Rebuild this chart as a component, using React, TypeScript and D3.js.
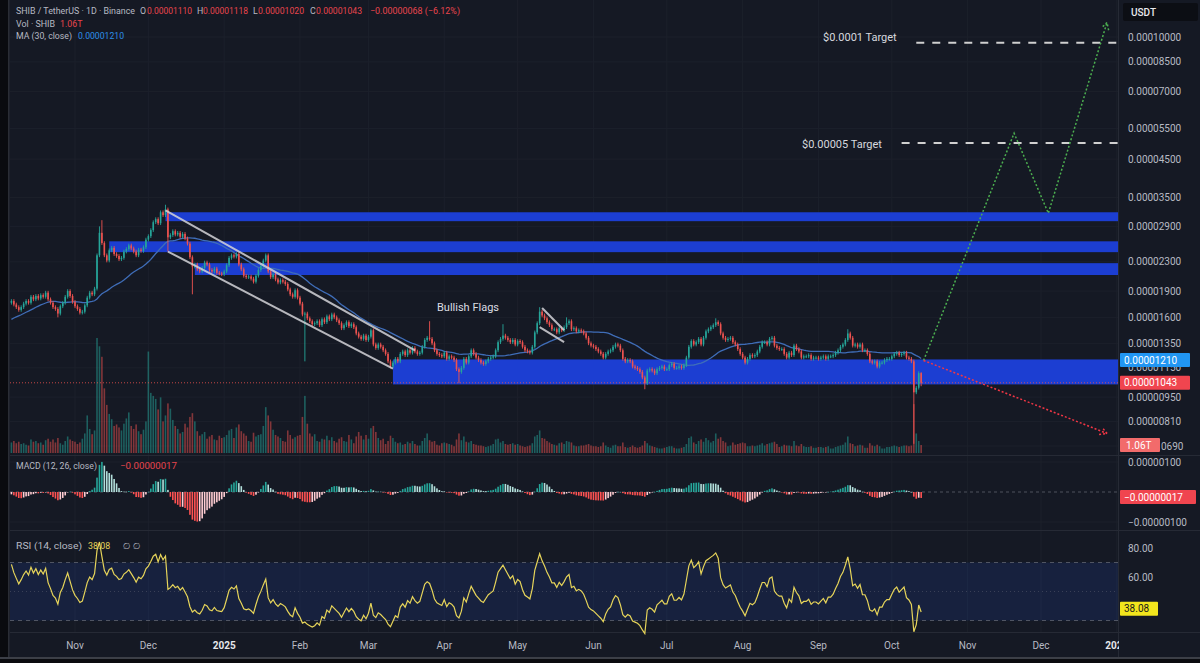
import React, { useMemo } from "react";
import * as d3 from "d3";

// ---------------- DATA ----------------
// prices in units of 1e-6 USDT, volumes in trillions of SHIB
const priorCloses = [13.0, 13.2, 13.4, 13.6, 13.8, 13.5, 13.7, 14.0, 14.2, 14.0, 13.8, 14.1, 14.6, 15.0, 15.4,
  15.3, 15.6, 16.2, 17.2, 17.8, 18.6, 18.9, 18.2, 17.8, 17.6, 16.9, 17.0, 17.4, 17.6, 17.6]; // Sep 6 – Oct 5 2024 (MA warm-up)

const segmentStarts = ["2024-10-06", "2024-11-01", "2024-12-01", "2025-01-01", "2025-02-01", "2025-03-01", "2025-04-01",
  "2025-05-01", "2025-06-01", "2025-07-01", "2025-08-01", "2025-09-01", "2025-10-01"];

const closesOct24 = [17.8, 17.4, 17.1, 16.8, 17.1, 17.5, 17.8, 17.6, 18.3, 18.0, 18.4, 18.1, 18.5, 18.3, 18.8, 18.0, 17.6, 17.1, 16.9, 16.4, 17.2, 17.6, 18.3, 19.0, 18.4, 17.7];
const closesNov24 = [17.2, 16.9, 16.5, 16.6, 17.3, 18.2, 18.8, 18.6, 19.3, 24.0, 27.8, 26.0, 24.0, 23.2, 24.8, 25.2, 24.2, 23.9, 23.4, 23.6, 24.6, 25.0, 25.6, 25.1, 24.6, 24.0, 24.9, 24.7, 25.3, 26.6];
const closesDec24 = [27.2, 28.3, 29.8, 30.4, 29.6, 31.8, 31.2, 32.4, 27.0, 27.4, 28.1, 27.5, 27.8, 27.1, 27.6, 26.8, 25.9, 23.7, 22.3, 22.6, 21.9, 21.6, 22.1, 22.9, 22.6, 21.8, 21.6, 22.0, 21.4, 21.3, 21.2];
const closesJan25 = [21.6, 22.5, 23.6, 24.0, 23.8, 24.2, 22.6, 21.9, 21.0, 20.8, 20.9, 20.6, 20.2, 21.0, 21.8, 22.4, 23.2, 24.0, 21.6, 20.8, 21.2, 20.5, 20.1, 20.4, 20.2, 19.9, 19.2, 18.6, 18.3, 19.1, 18.2];
const closesFeb25 = [17.5, 16.3, 16.4, 15.9, 15.6, 15.3, 15.4, 15.6, 15.2, 15.8, 15.5, 16.1, 15.8, 16.3, 16.0, 15.7, 15.4, 14.9, 15.2, 15.5, 15.1, 15.3, 15.0, 14.4, 14.1, 13.9, 14.2, 13.8];
const closesMar25 = [14.1, 14.7, 13.4, 13.1, 13.4, 13.2, 12.9, 12.6, 12.0, 11.6, 11.9, 12.2, 12.0, 12.6, 12.8, 12.5, 12.9, 12.7, 13.1, 12.8, 12.6, 12.7, 13.2, 13.8, 14.0, 13.9, 13.5, 12.9, 12.6, 12.5, 12.4];
const closesApr25 = [12.7, 12.2, 12.4, 12.3, 12.1, 11.4, 11.2, 11.5, 12.2, 11.9, 12.4, 12.9, 12.6, 12.3, 12.1, 11.9, 11.8, 12.0, 12.2, 12.3, 12.4, 12.9, 13.6, 13.9, 14.2, 14.0, 13.8, 13.6, 13.8, 13.4];
const closesMay25 = [13.7, 13.6, 13.2, 12.9, 12.8, 12.7, 13.2, 14.5, 15.4, 16.6, 16.2, 15.9, 15.5, 15.2, 14.8, 14.8, 14.5, 14.9, 14.7, 15.0, 15.4, 15.6, 14.8, 14.9, 14.6, 14.7, 14.6, 14.4, 14.0, 13.5, 13.3];
const closesJun25 = [13.2, 13.0, 12.8, 12.6, 12.3, 12.6, 12.8, 12.9, 13.2, 13.4, 13.3, 12.9, 12.2, 12.0, 12.1, 12.0, 11.6, 11.5, 11.4, 11.2, 10.8, 10.4, 11.3, 11.4, 11.3, 11.1, 11.4, 11.5, 11.6, 11.4];
const closesJul25 = [11.4, 11.7, 11.8, 11.5, 11.5, 11.6, 11.5, 11.7, 12.3, 13.2, 13.7, 13.4, 13.6, 13.9, 13.4, 14.0, 14.6, 14.8, 15.0, 15.2, 15.5, 15.3, 14.4, 14.0, 13.8, 13.9, 14.0, 13.6, 13.4, 13.0, 12.6];
const closesAug25 = [12.3, 11.9, 12.2, 12.5, 12.4, 12.5, 12.8, 13.2, 13.6, 13.6, 13.4, 13.9, 14.0, 13.3, 13.1, 13.0, 13.0, 12.6, 12.3, 12.7, 12.5, 13.3, 13.0, 12.8, 12.3, 12.4, 12.4, 12.5, 12.2, 12.3, 12.3];
const closesSep25 = [12.2, 12.3, 12.4, 12.2, 12.4, 12.4, 12.5, 12.7, 12.9, 13.2, 13.4, 13.8, 14.4, 14.0, 13.3, 13.4, 13.2, 13.4, 12.9, 12.9, 12.6, 12.0, 11.9, 12.0, 11.6, 11.9, 11.9, 12.1, 12.2, 12.2];
const closesOct25 = [12.4, 12.6, 12.7, 12.5, 12.6, 12.7, 12.3, 12.2, 12.0, 9.8, 10.1, 11.11, 10.43];

const volOct24 = [1.4, 1.6, 1.3, 1.5, 1.2, 1.3, 1.1, 1.0, 1.8, 1.5, 1.6, 1.3, 1.4, 1.1, 1.7, 1.9, 1.5, 1.8, 1.4, 2.0, 1.3, 1.1, 1.6, 2.2, 1.8, 1.6];
const volNov24 = [1.5, 1.2, 1.4, 1.9, 2.6, 5.0, 3.2, 2.5, 3.0, 15.3, 14.2, 12.8, 8.6, 6.4, 5.2, 4.5, 3.6, 3.8, 3.4, 3.0, 3.9, 4.6, 5.4, 3.6, 3.2, 3.8, 2.9, 2.5, 3.1, 4.2];
const volDec24 = [13.5, 8.0, 7.6, 7.2, 5.8, 7.4, 4.2, 5.0, 6.6, 5.9, 4.4, 3.6, 3.2, 2.6, 2.8, 3.9, 3.4, 4.8, 5.3, 4.2, 2.9, 2.3, 2.5, 2.8, 1.9, 2.2, 2.4, 1.8, 1.7, 2.3, 2.0];
const volJan25 = [2.1, 2.4, 3.0, 3.2, 2.0, 3.4, 3.8, 2.9, 2.6, 2.3, 1.6, 1.5, 2.7, 2.2, 2.4, 2.5, 3.6, 6.1, 5.0, 4.2, 3.1, 2.4, 2.2, 2.0, 1.6, 1.5, 3.0, 2.4, 1.9, 2.1, 2.3];
const volFeb25 = [2.4, 4.8, 7.6, 3.9, 2.6, 2.2, 2.5, 1.6, 1.5, 1.9, 1.8, 2.3, 1.7, 2.1, 1.6, 1.4, 1.9, 2.1, 1.6, 1.5, 2.4, 1.8, 1.3, 2.2, 2.8, 2.3, 1.8, 2.4];
const volMar25 = [1.9, 3.3, 3.6, 2.8, 2.0, 1.7, 1.9, 1.2, 1.6, 2.3, 2.0, 1.5, 1.3, 1.4, 1.1, 1.2, 1.5, 1.3, 1.6, 1.2, 1.0, 1.0, 1.6, 2.0, 2.6, 1.7, 1.5, 1.6, 1.1, 1.0, 1.3];
const volApr25 = [1.4, 1.3, 1.2, 1.1, 0.9, 1.8, 2.6, 1.7, 2.2, 1.5, 1.4, 1.6, 1.2, 1.1, 1.0, 1.0, 0.9, 0.8, 0.9, 1.0, 1.2, 1.8, 1.9, 1.4, 1.6, 1.2, 1.1, 1.2, 1.3, 1.1];
const volMay25 = [1.2, 1.0, 0.9, 0.8, 0.9, 1.0, 1.3, 2.2, 2.4, 3.0, 2.0, 1.9, 1.6, 1.4, 1.2, 1.1, 1.0, 1.3, 1.4, 1.2, 1.6, 1.5, 1.4, 1.0, 0.9, 0.9, 1.0, 1.0, 1.1, 1.2, 1.0];
const volJun25 = [0.9, 0.9, 0.8, 0.9, 1.4, 1.0, 0.8, 0.7, 1.0, 1.1, 0.9, 0.9, 1.4, 0.8, 0.7, 0.8, 1.0, 0.8, 0.7, 0.8, 1.0, 1.6, 1.3, 1.0, 0.9, 0.8, 0.7, 0.6, 0.6, 0.7];
const volJul25 = [0.8, 0.9, 0.9, 0.7, 0.6, 0.6, 0.7, 0.8, 1.2, 2.0, 2.2, 1.4, 1.2, 1.6, 1.8, 1.5, 2.0, 1.7, 1.4, 1.6, 2.6, 1.9, 2.1, 1.6, 1.4, 0.9, 1.0, 1.4, 1.1, 1.2, 1.3];
const volAug25 = [1.4, 1.3, 0.9, 0.9, 1.0, 0.9, 1.0, 1.1, 1.3, 1.0, 1.2, 1.3, 1.4, 1.5, 1.2, 0.8, 0.9, 1.1, 1.0, 1.0, 0.9, 1.6, 1.0, 0.9, 1.2, 0.9, 0.8, 0.8, 0.9, 0.7, 0.7];
const volSep25 = [0.8, 0.8, 0.7, 0.8, 0.9, 0.6, 0.6, 0.8, 0.9, 1.0, 1.1, 1.4, 2.2, 1.3, 1.2, 0.9, 1.0, 1.1, 1.0, 0.7, 0.7, 1.3, 1.0, 0.9, 1.1, 0.9, 0.6, 0.6, 0.8, 0.8];
const volOct25 = [0.9, 1.0, 0.9, 0.8, 0.9, 1.0, 1.0, 0.9, 1.0, 6.5, 2.6, 1.6, 1.06];

const closeSegments = [closesOct24, closesNov24, closesDec24, closesJan25, closesFeb25, closesMar25, closesApr25,
  closesMay25, closesJun25, closesJul25, closesAug25, closesSep25, closesOct25];
const volumeSegments = [volOct24, volNov24, volDec24, volJan25, volFeb25, volMar25, volApr25,
  volMay25, volJun25, volJul25, volAug25, volSep25, volOct25];

// notable wicks
const highMarks: [string, number][] = [["2024-11-11", 29.0], ["2024-11-12", 30.2], ["2024-12-08", 33.4], ["2025-03-26", 15.6],
  ["2025-04-25", 15.3], ["2025-05-10", 17.1], ["2025-05-21", 16.0], ["2025-07-21", 15.9], ["2025-09-13", 14.8], ["2025-10-13", 11.18]];
const lowMarks: [string, number][] = [["2024-10-25", 16.0], ["2024-12-09", 24.6], ["2024-12-19", 18.6], ["2025-02-03", 12.0],
  ["2025-04-07", 10.4], ["2025-06-22", 10.0], ["2025-10-10", 7.0], ["2025-10-13", 10.20]];

// axis ticks (the 6.90 label is mostly hidden by the volume badge; only its tail shows)
const priceTicks = [100, 85, 70, 55, 45, 35, 29, 23, 19, 16, 13.5, 11.5, 9.5, 8.1, 6.9];
const macdTicks = [1, -1];
const rsiTicks = [80, 60];

// drawings (dates, prices in 1e-6)
const zoneStarts = ["2024-12-08", "2024-11-15", "2024-12-20", "2025-03-11"];
const zoneLows = [30.0, 24.5, 21.1, 10.32];
const zoneHighs = [31.8, 26.3, 22.8, 12.15];
const channelUpper: [string, number][] = [["2024-12-08", 32.2], ["2025-03-20", 12.9]];
const channelLower: [string, number][] = [["2024-12-09", 24.6], ["2025-03-11", 11.44]];
const flagUpper: [string, number][] = [["2025-05-11", 17.0], ["2025-05-20", 14.7]];
const flagLower: [string, number][] = [["2025-05-10", 15.0], ["2025-05-20", 13.6]];
const greenPath: [string, number][] = [["2025-10-14", 12.07], ["2025-11-20", 53.3], ["2025-12-04", 31.6], ["2025-12-28", 110]];
const redPath: [string, number][] = [["2025-10-14", 12.07], ["2025-12-28", 7.49]];
const targetLabels = ["$0.0001 Target", "$0.00005 Target"];
const targetPrices = [96.3, 50.0];
const targetStarts = ["2025-10-11", "2025-10-05"];

// ---------------- HELPERS ----------------
const parse = (s: string) => {
  const [y, m, d] = s.split("-").map(Number);
  return new Date(Date.UTC(y, m - 1, d));
};
const DAY = 86400000;
const U = 1e-6;

type Bar = { date: Date; o: number; h: number; l: number; c: number; v: number; ma: number; hist: number; rsi: number };

function buildBars(): Bar[] {
  const dates: Date[] = [];
  const cl: number[] = [];
  const vol: number[] = [];
  segmentStarts.forEach((s, k) => {
    const t0 = parse(s).getTime();
    closeSegments[k].forEach((c, i) => {
      dates.push(new Date(t0 + i * DAY));
      cl.push(c);
      vol.push(volumeSegments[k][i] ?? 1);
    });
  });
  const all = [...priorCloses, ...cl];
  const n0 = priorCloses.length;
  const ema = (arr: number[], p: number) => {
    const k = 2 / (p + 1);
    let e = arr[0];
    return arr.map((v, i) => (e = i === 0 ? v : v * k + e * (1 - k)));
  };
  const e12 = ema(all, 12), e26 = ema(all, 26);
  const macd = all.map((_, i) => e12[i] - e26[i]);
  const sig = ema(macd, 9);
  const rsi: number[] = [50];
  let ag = 0, al = 0;
  for (let i = 1; i < all.length; i++) {
    const ch = all[i] - all[i - 1];
    const g = Math.max(ch, 0), l = Math.max(-ch, 0);
    if (i <= 14) { ag += g / 14; al += l / 14; }
    else { ag = (ag * 13 + g) / 14; al = (al * 13 + l) / 14; }
    rsi.push(al === 0 ? 100 : 100 - 100 / (1 + ag / al));
  }
  const hiMap = new Map(highMarks.map(([d, v]) => [parse(d).getTime(), v]));
  const loMap = new Map(lowMarks.map(([d, v]) => [parse(d).getTime(), v]));
  return cl.map((c, i) => {
    const ai = i + n0;
    const o = all[ai - 1];
    const t = dates[i].getTime();
    const h = hiMap.get(t) ?? Math.max(o, c) * 1.012;
    const l = loMap.get(t) ?? Math.min(o, c) * 0.988;
    const ma = d3.mean(all.slice(ai - 29, ai + 1)) as number;
    return { date: dates[i], o, h, l, c, v: vol[i], ma, hist: macd[ai] - sig[ai], rsi: rsi[ai] };
  });
}

// ---------------- COMPONENT ----------------
const W = 1200, H = 663;
const L = 10, R = 1118;
const PRICE_BOTTOM = 455, VOL_BASE = 453;
const FONT = "Roboto, 'Noto Sans', 'DejaVu Sans', sans-serif";
const BG = "#151924";
const GRID = "#1c202b";
const TXT = "#b7bac3";
const UP = "#26a69a", DOWN = "#ef5350";

export default function App() {
  const bars = useMemo(buildBars, []);

  const x = d3.scaleUtc().domain([Date.UTC(2024, 10, 1), Date.UTC(2025, 11, 1)]).range([75, 1041]);
  const y = d3.scaleLog().domain([6.9 * U, 100 * U]).range([446, 37]);
  const yv = d3.scaleLinear().domain([0, 15.3]).range([VOL_BASE, 338]);
  const ym = d3.scaleLinear().domain([-1 * U, 1 * U]).range([522, 462]);
  const yr = d3.scaleLinear().domain([60, 80]).range([577, 548]);

  const bw = 1.6;
  const months = d3.utcMonth.range(new Date(Date.UTC(2024, 10, 1)), new Date(Date.UTC(2026, 0, 2)));
  const px = (p: [string, number]) => [x(parse(p[0])), y(p[1] * U)] as [number, number];

  const maLine = d3.line<Bar>().x(d => x(d.date)).y(d => y(d.ma * U))(bars) as string;
  const rsiLine = d3.line<Bar>().x(d => x(d.date)).y(d => yr(d.rsi))(bars) as string;

  const arrowHead = (pts: [string, number][], color: string) => {
    const a = px(pts[pts.length - 2]), b = px(pts[pts.length - 1]);
    const ang = Math.atan2(b[1] - a[1], b[0] - a[0]);
    const len = 8, spread = 0.5;
    const p1 = [b[0] - len * Math.cos(ang - spread), b[1] - len * Math.sin(ang - spread)];
    const p2 = [b[0] - len * Math.cos(ang + spread), b[1] - len * Math.sin(ang + spread)];
    return <path d={`M${p1[0]},${p1[1]}L${b[0]},${b[1]}L${p2[0]},${p2[1]}`} fill="none" stroke={color} strokeWidth={1.5} strokeDasharray="2,2" />;
  };

  const last = bars[bars.length - 1];
  const pathOf = (pts: [string, number][]) => d3.line()(pts.map(px)) as string;

  const blueY = y(12.1 * U), redY = y(last.c * U), volY = yv(last.v);
  const axisLabel = (yy: number, text: string, key: string) => {
    if (Math.abs(yy - volY) < 10) {
      // only the tail of this label peeks out from behind the volume badge
      return <text key={key} x={1161} y={yy + 3.5} fontSize={10} fill={TXT} fontFamily={FONT}>{text.slice(-4)}</text>;
    }
    const clip = Math.abs(yy - blueY) < 12 ? "url(#clipBlue)" : undefined;
    return <text key={key} x={1128} y={yy + 3.5} fontSize={10} fill={TXT} fontFamily={FONT} clipPath={clip}>{text}</text>;
  };

  return (
    <div style={{ position: "fixed", left: 0, top: 0, width: W, height: H }}>
      <svg width={W} height={H} style={{ display: "block" }}>
        <defs>
          <clipPath id="pricePane"><rect x={L} y={0} width={R - L} height={PRICE_BOTTOM} /></clipPath>
          <clipPath id="timeAxis"><rect x={L} y={632} width={R - L + 1} height={25} /></clipPath>
          <clipPath id="clipBlue"><rect x={1120} y={blueY + 7} width={80} height={10} /></clipPath>
        </defs>
        <rect x={0} y={0} width={W} height={H} fill="#0a0b0f" />
        <rect x={9} y={0} width={W - 9} height={657} fill={BG} />

        {/* grid */}
        {months.map((m, i) => (
          <line key={"vg" + i} x1={x(m)} x2={x(m)} y1={0} y2={632} stroke={GRID} strokeWidth={1} />
        ))}
        {priceTicks.map((t, i) => (
          <line key={"hg" + i} x1={L} x2={R} y1={y(t * U)} y2={y(t * U)} stroke={GRID} strokeWidth={1} />
        ))}
        {macdTicks.map((t, i) => (
          <line key={"mg" + i} x1={L} x2={R} y1={ym(t * U)} y2={ym(t * U)} stroke={GRID} strokeWidth={1} />
        ))}

        {/* pane separators */}
        <line x1={L} x2={W} y1={455.5} y2={455.5} stroke="#262a35" />
        <line x1={L} x2={W} y1={530.5} y2={530.5} stroke="#262a35" />
        <line x1={L} x2={W} y1={632.5} y2={632.5} stroke="#262a35" />
        <line x1={R + 0.5} x2={R + 0.5} y1={0} y2={657} stroke="#262a35" />

        <g clipPath="url(#pricePane)">
          {/* volume */}
          {bars.map((d, i) => (
            <rect key={"v" + i} x={x(d.date) - bw / 2} width={bw} y={yv(d.v)} height={VOL_BASE - yv(d.v)}
              fill={d.c >= d.o ? UP : DOWN} opacity={0.5} />
          ))}
          {/* zones */}
          {zoneStarts.map((s, i) => (
            <rect key={"z" + i} x={x(parse(s))} width={R - x(parse(s))} y={y(zoneHighs[i] * U)}
              height={y(zoneLows[i] * U) - y(zoneHighs[i] * U)} fill="#1c3ed2" />
          ))}
          {/* last price line */}
          <line x1={L} x2={R} y1={redY} y2={redY} stroke={DOWN} strokeWidth={1} strokeDasharray="1,2" opacity={0.8} />
          {/* MA */}
          <path d={maLine} fill="none" stroke="#3f6db8" strokeWidth={1.3} />
          {/* candles */}
          {bars.map((d, i) => {
            const cx = x(d.date);
            const col = d.c >= d.o ? UP : DOWN;
            const top = y(Math.max(d.o, d.c) * U), bot = y(Math.min(d.o, d.c) * U);
            return (
              <g key={"c" + i}>
                <line x1={cx} x2={cx} y1={y(d.h * U)} y2={y(d.l * U)} stroke={col} strokeWidth={0.9} />
                <rect x={cx - bw / 2} width={bw} y={top} height={Math.max(1, bot - top)} fill={col} />
              </g>
            );
          })}
          {/* channel & flag */}
          {[channelUpper, channelLower, flagUpper, flagLower].map((ln, i) => (
            <path key={"ch" + i} d={pathOf(ln)} stroke="#d4d4d8" strokeWidth={2} opacity={0.85} fill="none" />
          ))}
          {/* targets */}
          {targetPrices.map((p, i) => (
            <line key={"t" + i} x1={x(parse(targetStarts[i]))} x2={R} y1={y(p * U)} y2={y(p * U)} stroke="#d0d0d0" strokeWidth={2} strokeDasharray="8,8" />
          ))}
          <path d={pathOf(greenPath)} fill="none" stroke="#4caf50" strokeWidth={1.5} strokeDasharray="2,2" />
          {arrowHead(greenPath, "#4caf50")}
          <path d={pathOf(redPath)} fill="none" stroke="#f23645" strokeWidth={1.5} strokeDasharray="2,2" />
          {arrowHead(redPath, "#f23645")}
        </g>

        <text x={823} y={y(targetPrices[0] * U) - 2} fontSize={11} fill="#d6d8de" fontFamily={FONT}>{targetLabels[0]}</text>
        <text x={802} y={y(targetPrices[1] * U) + 5} fontSize={11} fill="#d6d8de" fontFamily={FONT}>{targetLabels[1]}</text>
        <text x={437} y={311} fontSize={11} fill="#dcdde2" fontFamily={FONT}>Bullish Flags</text>

        {/* header legend */}
        <g fontFamily={FONT} fontSize={8.8}>
          <text x={16} y={14} fill={TXT} textLength={119} lengthAdjust="spacingAndGlyphs">SHIB / TetherUS · 1D · Binance</text>
          <text x={140} y={14} fill={TXT}>O</text>
          <text x={147} y={14} fill="#e8454d" textLength={45} lengthAdjust="spacingAndGlyphs">0.00001110</text>
          <text x={197} y={14} fill={TXT}>H</text>
          <text x={203} y={14} fill="#e8454d" textLength={45} lengthAdjust="spacingAndGlyphs">0.00001118</text>
          <text x={253} y={14} fill={TXT}>L</text>
          <text x={258} y={14} fill="#e8454d" textLength={46} lengthAdjust="spacingAndGlyphs">0.00001020</text>
          <text x={310} y={14} fill={TXT}>C</text>
          <text x={316} y={14} fill="#e8454d" textLength={46} lengthAdjust="spacingAndGlyphs">0.00001043</text>
          <text x={370} y={14} fill="#e8454d" textLength={90} lengthAdjust="spacingAndGlyphs">−0.00000068 (−6.12%)</text>
          <text x={16} y={27} fill={TXT} textLength={39} lengthAdjust="spacingAndGlyphs">Vol · SHIB</text>
          <text x={60} y={27} fill="#e8454d">1.06T</text>
          <text x={16} y={39} fill={TXT} textLength={56} lengthAdjust="spacingAndGlyphs">MA (30, close)</text>
          <text x={78} y={39} fill="#2d8fe8" textLength={46} lengthAdjust="spacingAndGlyphs">0.00001210</text>
        </g>

        {/* MACD pane */}
        <line x1={L} x2={R} y1={ym(0)} y2={ym(0)} stroke="#5d606b" strokeDasharray="3,3" opacity={0.8} />
        {bars.map((d, i) => {
          const prev = i > 0 ? bars[i - 1].hist : d.hist;
          const col = d.hist >= 0 ? (d.hist >= prev ? "#26a69a" : "#b2dfdb") : (d.hist < prev ? "#ff5252" : "#ffcdd2");
          const y0 = ym(0), y1 = ym(d.hist * U);
          return <rect key={"h" + i} x={x(d.date) - bw / 2} width={bw} y={Math.min(y0, y1)} height={Math.max(0.5, Math.abs(y1 - y0))} fill={col} />;
        })}
        <g fontFamily={FONT} fontSize={8.8}>
          <text x={16} y={469} fill={TXT} textLength={81} lengthAdjust="spacingAndGlyphs">MACD (12, 26, close)</text>
          <text x={120} y={469} fill="#e8454d" textLength={57} lengthAdjust="spacingAndGlyphs">−0.00000017</text>
        </g>

        {/* RSI pane */}
        <rect x={L} y={yr(70)} width={R - L} height={yr(30) - yr(70)} fill="#2962ff" opacity={0.12} />
        <line x1={L} x2={R} y1={yr(70)} y2={yr(70)} stroke="#787b86" strokeDasharray="4,4" opacity={0.6} />
        <line x1={L} x2={R} y1={yr(50)} y2={yr(50)} stroke="#787b86" strokeDasharray="1,3" opacity={0.35} />
        <line x1={L} x2={R} y1={yr(30)} y2={yr(30)} stroke="#787b86" strokeDasharray="4,4" opacity={0.6} />
        <path d={rsiLine} fill="none" stroke="#e6d45a" strokeWidth={1.2} />
        <g fontFamily={FONT} fontSize={8.8}>
          <text x={16} y={549} fill={TXT} textLength={66} lengthAdjust="spacingAndGlyphs">RSI (14, close)</text>
          <text x={88} y={549} fill="#e6d45a">38.08</text>
          <text x={123} y={549} fill={TXT}>∅</text>
          <text x={133} y={549} fill={TXT}>∅</text>
        </g>

        {/* right axis */}
        <rect x={1123} y={3} width={75} height={18} rx={2} fill="#0c0e14" />
        <text x={1131} y={16} fontSize={10} fill="#e8e9ee" fontFamily={FONT} fontWeight={500}>USDT</text>
        {priceTicks.map((t, i) => axisLabel(y(t * U), (t * U).toFixed(8), "pt" + i))}
        {macdTicks.map((t, i) => axisLabel(ym(t * U), (t * U).toFixed(8).replace("-", "−"), "mt" + i))}
        {rsiTicks.map((t, i) => axisLabel(yr(t), t.toFixed(2), "rt" + i))}

        {/* value badges */}
        <rect x={1120} y={blueY - 7} width={70} height={14} rx={1} fill="#2196f3" />
        <text x={1124} y={blueY + 3.5} fontSize={10} fill="#ffffff" fontFamily={FONT}>0.00001210</text>
        <rect x={1120} y={redY - 7} width={70} height={14} rx={1} fill="#f0454f" />
        <text x={1124} y={redY + 3.5} fontSize={10} fill="#ffffff" fontFamily={FONT}>0.00001043</text>
        <rect x={1120} y={volY - 7} width={40} height={14} rx={1} fill="#f26b6b" />
        <text x={1126} y={volY + 3.5} fontSize={10} fill="#ffffff" fontFamily={FONT}>1.06T</text>
        <rect x={1120} y={ym(-0.17 * U) - 7} width={76} height={14} rx={1} fill="#f0454f" />
        <text x={1124} y={ym(-0.17 * U) + 3.5} fontSize={10} fill="#ffffff" fontFamily={FONT}>−0.00000017</text>
        <rect x={1120} y={yr(38.08) - 7} width={38} height={14} rx={1} fill="#f2e51d" />
        <text x={1124} y={yr(38.08) + 3.5} fontSize={10} fill="#1a1a1a" fontFamily={FONT}>38.08</text>

        {/* time axis */}
        <g clipPath="url(#timeAxis)">
          {months.map((m, i) => {
            const isYear = m.getUTCMonth() === 0;
            return (
              <text key={"tx" + i} x={x(m)} y={649} textAnchor="middle" fontSize={10} fontFamily={FONT}
                fill={isYear ? "#e6e7eb" : TXT} fontWeight={isYear ? 700 : 400}>
                {isYear ? d3.utcFormat("%Y")(m) : d3.utcFormat("%b")(m)}
              </text>
            );
          })}
        </g>

        {/* bottom frame */}
        <rect x={0} y={657} width={W} height={2} fill="#3c3f47" />
        <rect x={8} y={0} width={1.5} height={657} fill="#2a2d35" />
      </svg>
    </div>
  );
}
